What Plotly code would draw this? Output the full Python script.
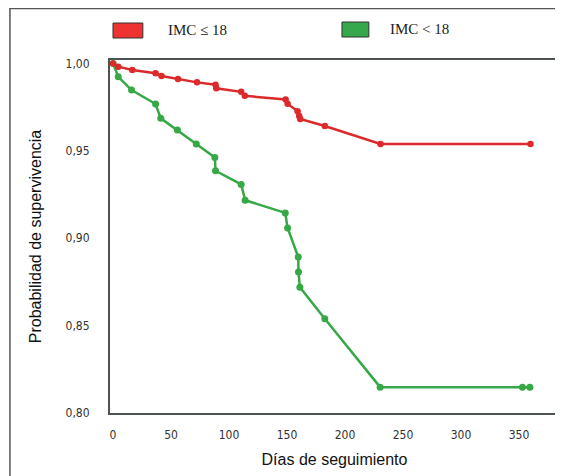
import plotly.graph_objects as go

# Kaplan-Meier style survival estimates
dias_imc_le18 = [0, 4.5, 16.6, 36.7, 41.8, 56, 72.4, 88.4, 89, 110.5, 113.6, 148.8, 150.5,
                 159.1, 160.5, 161.4, 182.6, 230.6, 359.9]
surv_imc_le18 = [1.000, 0.9982, 0.9963, 0.9944, 0.9928, 0.9911, 0.9892, 0.9879, 0.9858, 0.9838,
                 0.9815, 0.9794, 0.9770, 0.9727, 0.9699, 0.9682, 0.9642, 0.9539, 0.9539]

dias_imc_lt18 = [0, 4.5, 16, 36.7, 41.2, 55.5, 71.8, 87.8, 88.4, 110.5, 113.9, 148.5, 150.5,
                 159.7, 159.9, 161.1, 182.6, 230.3, 353, 359.4]
surv_imc_lt18 = [1.000, 0.9924, 0.9848, 0.9768, 0.9686, 0.9619, 0.9539, 0.9462, 0.9386, 0.9308,
                 0.9218, 0.9145, 0.9059, 0.8893, 0.8807, 0.8719, 0.8539, 0.8148, 0.8148, 0.8148]

serie_nombres = ["IMC ≤ 18", "IMC < 18"]
y_ticks = [0.80, 0.85, 0.90, 0.95, 1.00]
x_ticks = [0, 50, 100, 150, 200, 250, 300, 350]

RED = "#dc2a2c"
GREEN = "#36a846"

OFF = 8  # default page body margin
W, H = 563 - OFF, 476 - OFF
L, T = 110 - OFF, 60 - OFF
R = W - (561 - OFF)
B = H - (413 - OFF)

fig = go.Figure()
fig.add_trace(go.Scatter(x=dias_imc_lt18, y=surv_imc_lt18, mode="lines+markers",
                         line=dict(color=GREEN, width=2.5), marker=dict(color=GREEN, size=7),
                         name=serie_nombres[1], showlegend=False))
fig.add_trace(go.Scatter(x=dias_imc_le18, y=surv_imc_le18, mode="lines+markers",
                         line=dict(color=RED, width=2.5), marker=dict(color=RED, size=6.5),
                         name=serie_nombres[0], showlegend=False))

pw, ph = W - L - R, H - T - B


def px(x):
    return (x - OFF - L) / pw


def py(y):
    return (H - B - (y - OFF)) / ph


shapes = [
    # outer frame
    dict(type="line", xref="paper", yref="paper", x0=px(9.5), x1=px(9.5), y0=py(7), y1=py(480),
         line=dict(color="#555", width=1.5)),
    dict(type="line", xref="paper", yref="paper", x0=px(9), x1=px(565), y0=py(8.5), y1=py(8.5),
         line=dict(color="#555", width=1.5)),
    # legend swatches
    dict(type="rect", xref="paper", yref="paper", x0=px(113), x1=px(143), y0=py(38), y1=py(23),
         fillcolor="#ee3131", line=dict(color="#333", width=1)),
    dict(type="rect", xref="paper", yref="paper", x0=px(343), x1=px(370), y0=py(37), y1=py(22),
         fillcolor="#34a84a", line=dict(color="#333", width=1)),
]
annotations = [
    dict(text=serie_nombres[0], xref="paper", yref="paper", x=px(166), y=py(30), xanchor="left",
         yanchor="middle", showarrow=False, font=dict(family="Liberation Serif", size=15, color="#222")),
    dict(text=serie_nombres[1], xref="paper", yref="paper", x=px(389), y=py(29), xanchor="left",
         yanchor="middle", showarrow=False, font=dict(family="Liberation Serif", size=15, color="#222")),
]

fig.update_layout(
    width=W, height=H, margin=dict(l=L, r=R, t=T, b=B),
    plot_bgcolor="white", paper_bgcolor="white",
    separators=",.",
    shapes=shapes, annotations=annotations,
    xaxis=dict(range=[-2.6, 384.5], tickvals=x_ticks, showgrid=False, zeroline=False,
               showline=True, linecolor="#4d5353", linewidth=2, mirror=True, ticks="",
               ticklabelstandoff=10,
               tickfont=dict(family="DejaVu Sans Condensed, DejaVu Sans", size=12, color="#333"),
               title=dict(text="Días de seguimiento", standoff=12,
                          font=dict(family="Liberation Sans, Arial", size=16, color="#111"))),
    yaxis=dict(range=[0.8, 1.002], tickvals=y_ticks, tickformat=".2f", showgrid=False,
               zeroline=False, showline=True, linecolor="#4d5353", linewidth=2, mirror=True,
               ticks="", ticklabelstandoff=16,
               tickfont=dict(family="DejaVu Sans Condensed, DejaVu Sans", size=12, color="#333"),
               title=dict(text="Probabilidad de supervivencia", standoff=20,
                          font=dict(family="Liberation Sans, Arial", size=16, color="#111"))),
)

fig.write_html("out.html")
